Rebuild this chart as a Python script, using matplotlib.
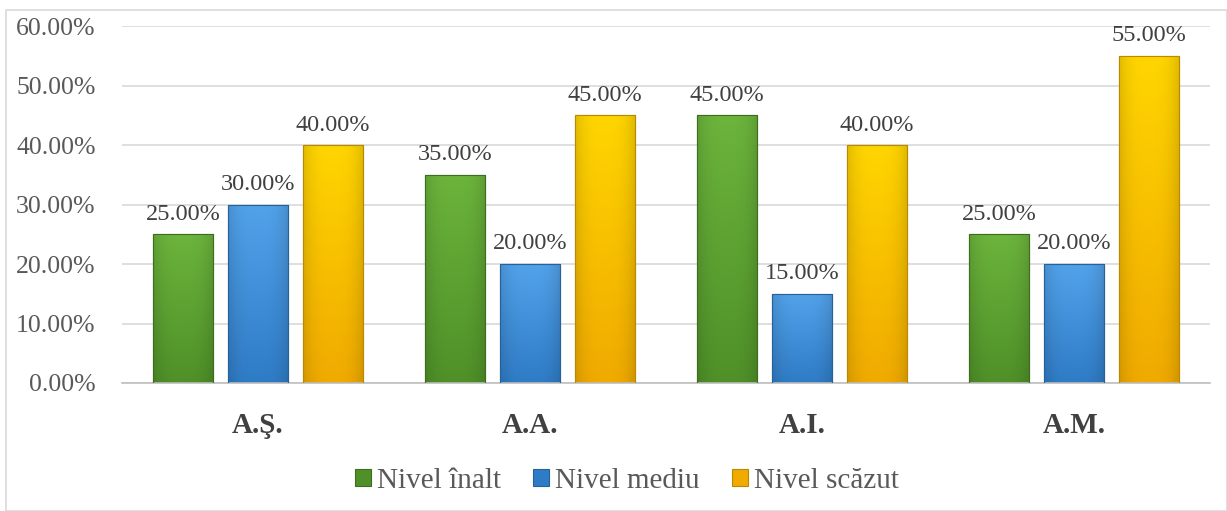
import numpy as np
import matplotlib
matplotlib.use('Agg')
import matplotlib.pyplot as plt
from matplotlib.patches import Rectangle
from matplotlib.colors import to_rgb

categories = ['A.Ş.', 'A.A.', 'A.I.', 'A.M.']
series_names = ['Nivel înalt', 'Nivel mediu', 'Nivel scăzut']
nivel_inalt = [25, 35, 45, 25]
nivel_mediu = [30, 20, 15, 20]
nivel_scazut = [40, 45, 40, 55]
y_ticks = [0, 10, 20, 30, 40, 50, 60]

# (edge, top, bottom)
colors = [('#3d6e1e', '#6cb43c', '#4f9028'),
          ('#28609a', '#52a2ea', '#2f7cc6'),
          ('#b98a00', '#ffd500', '#f0aa00')]

plt.rcParams['font.family'] = ['Liberation Serif', 'DejaVu Serif']


def bar_image(top, bottom, n=64):
    t = np.array(to_rgb(top))
    b = np.array(to_rgb(bottom))
    v = np.linspace(0, 1, n)[:, None, None]
    img = t * (1 - v) + b * v
    img = np.repeat(img, n, axis=1)
    # slight darkening toward the sides, lighter middle
    h = np.linspace(-1, 1, n)
    shade = 1 - 0.12 * np.abs(h) ** 3
    img = img * shade[None, :, None]
    return np.clip(img, 0, 1)


fig = plt.figure(figsize=(12.27, 5.11), dpi=100)
ax = fig.add_axes([0.0994, 0.2505, 0.8866, 0.6985])

x = np.arange(len(categories))
width = 0.22
step = 0.275
values = [nivel_inalt, nivel_mediu, nivel_scazut]

for i, (vals, name) in enumerate(zip(values, series_names)):
    edge, top, bottom = colors[i]
    bars = ax.bar(x + (i - 1) * step, vals, width, color=bottom, edgecolor=edge,
                  linewidth=0.8, label=name, zorder=2)
    img = bar_image(top, bottom)
    for b in bars:
        x0, y0 = b.get_x(), b.get_y()
        w, h = b.get_width(), b.get_height()
        im = ax.imshow(img, extent=[x0, x0 + w, y0, y0 + h], aspect='auto',
                       origin='upper', zorder=2.5, interpolation='bilinear')
        im.set_clip_path(b)
        ax.add_patch(Rectangle((x0, y0), w, h, fill=False, edgecolor=edge,
                               linewidth=0.8, zorder=3))
        ax.text(x0 + w / 2, h + 1.6, '%.2f%%' % h, ha='center', va='bottom',
                fontsize=17.5, color='#404040', zorder=4)

ax.set_xlim(-0.5, len(categories) - 0.5)
ax.set_ylim(0, 60)
ax.set_yticks(y_ticks)
ax.set_yticklabels(['%.2f%%' % t for t in y_ticks], fontsize=18.5, color='#595959')
ax.set_xticks(x)
ax.set_xticklabels(categories, fontsize=21, fontweight='bold', color='#404040')
ax.tick_params(axis='both', length=0)
ax.tick_params(axis='x', pad=21)
ax.tick_params(axis='y', pad=19)
ax.yaxis.grid(True, color='#d9d9d9', linewidth=1.2, zorder=0)
ax.set_axisbelow(True)
for s in ['top', 'right', 'left']:
    ax.spines[s].set_visible(False)
ax.spines['bottom'].set_color('#bfbfbf')
ax.spines['bottom'].set_linewidth(1.2)

handles, labels = ax.get_legend_handles_labels()
leg = fig.legend(handles, labels, loc='center', bbox_to_anchor=(627 / 1227, 1 - 481 / 511),
                 ncol=3, frameon=False, fontsize=21, handlelength=0.55, handleheight=0.55,
                 handletextpad=0.2, columnspacing=1.1)
for t in leg.get_texts():
    t.set_color('#595959')

fig.patches.append(Rectangle((6 / 1227, 0), 1 - 6 / 1227, 1 - 10 / 511,
                             transform=fig.transFigure, fill=False,
                             edgecolor='#d9d9d9', linewidth=1.2))

fig.savefig('out.png', dpi=100)
